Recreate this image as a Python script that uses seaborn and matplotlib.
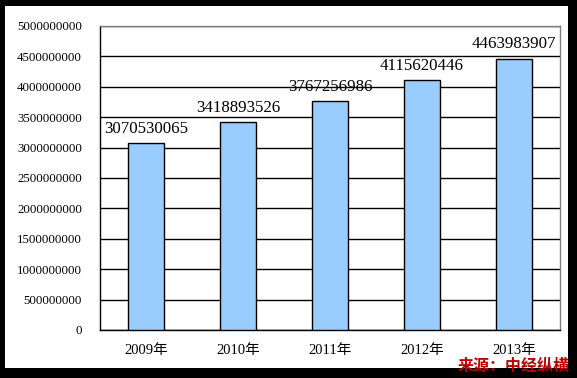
import matplotlib
matplotlib.use("Agg")
import matplotlib.pyplot as plt
import seaborn as sns
import pandas as pd
from matplotlib.patches import Rectangle
from matplotlib.ticker import FuncFormatter

years = ["2009年", "2010年", "2011年", "2012年", "2013年"]
values = [3070530065, 3418893526, 3767256986, 4115620446, 4463983907]
yticks = [0, 500000000, 1000000000, 1500000000, 2000000000, 2500000000,
          3000000000, 3500000000, 4000000000, 4500000000, 5000000000]
source = "来源：中经纵横"

sns.set_theme(style="white")
plt.rcParams['font.family'] = ['Liberation Serif', 'Noto Sans CJK SC']

W, H = 577, 378
fig = plt.figure(figsize=(W / 100, H / 100), dpi=100)
fig.patch.set_facecolor("black")
fig.patches.append(Rectangle((5 / W, 1 - 368 / H), (568 - 5) / W, (368 - 6) / H,
                             transform=fig.transFigure, facecolor="white",
                             edgecolor="none", zorder=-10))

ax = fig.add_axes([100 / W, 1 - 330 / H, (560 - 100) / W, (330 - 26) / H])
ax.set_facecolor("white")

df = pd.DataFrame({"year": years, "value": values})
sns.barplot(data=df, x="year", y="value", color="#99CCFF", saturation=1,
            edgecolor="black", linewidth=1, width=0.4, ax=ax, zorder=3)

ax.set_xlim(-0.5, len(years) - 0.5)
ax.set_ylim(0, 5000000000)
ax.set_yticks(yticks)
ax.yaxis.set_major_formatter(FuncFormatter(lambda v, p: f"{int(round(v))}"))
ax.yaxis.grid(True, color="black", linewidth=1)
ax.xaxis.grid(False)
ax.set_axisbelow(True)

for s in ["left", "bottom"]:
    ax.spines[s].set_color("black")
    ax.spines[s].set_linewidth(1)
for s in ["top", "right"]:
    ax.spines[s].set_color("#808080")
    ax.spines[s].set_linewidth(1)
    ax.spines[s].set_visible(True)

ax.tick_params(axis="y", length=0, pad=13, labelsize=9.3, labelcolor="black")
ax.tick_params(axis="x", which="major", length=0, pad=10, labelsize=10.5, labelcolor="black")
ax.set_xticks([i + 0.5 for i in range(len(years) - 1)], minor=True)
ax.tick_params(axis="x", which="minor", direction="in", length=3, width=1, color="black")
ax.set_xlabel("")
ax.set_ylabel("")

for c in ax.containers:
    ax.bar_label(c, labels=[str(v) for v in values], padding=4.5, fontsize=12.2, color="black")

fig.text(570 / W, 1 - 366 / H, source, ha="right", va="center", color="#C00000",
         fontsize=11.5, fontweight="bold", family=["Noto Sans CJK SC"], style="italic")

fig.savefig("out.png", dpi=100, facecolor=fig.get_facecolor())
